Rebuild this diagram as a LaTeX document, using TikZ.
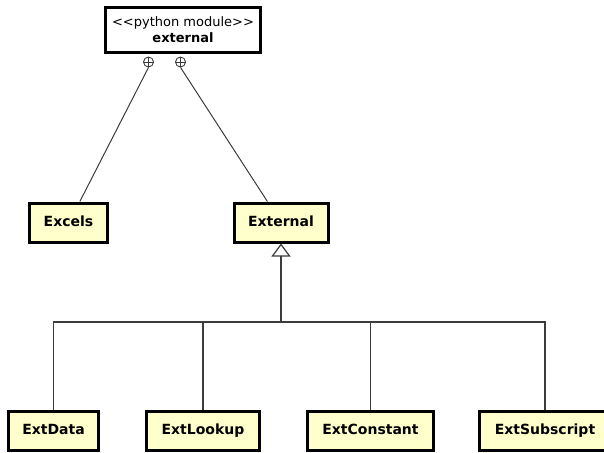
\documentclass[tikz,border=0pt]{standalone}
\usepackage{fontspec}
\setmainfont{DejaVu Sans}
\usetikzlibrary{arrows.meta,calc}
\definecolor{classfill}{RGB}{255,255,204}
\definecolor{wire}{RGB}{60,60,60}
\tikzset{
  classbox/.style={draw=black, line width=3pt, fill=classfill, minimum height=39pt,
    inner sep=0pt, text height=10.5pt, text depth=3pt,
    font=\fontsize{14}{17}\selectfont\bfseries},
  modulebox/.style={draw=black, line width=3pt, fill=white, minimum width=155pt,
    minimum height=45pt, inner sep=0pt, align=center, font=\fontsize{13}{16}\selectfont},
  nestmark/.style={circle, draw=wire, line width=0.9pt, fill=white, minimum size=10pt,
    inner sep=0pt,
    path picture={\draw[wire, line width=0.9pt]
      (path picture bounding box.north) -- (path picture bounding box.south)
      (path picture bounding box.west) -- (path picture bounding box.east);}},
  nestline/.style={draw=wire, line width=1pt},
  genline/.style={draw=wire, line width=1.5pt},
  genarrow/.style={genline, -{Triangle[open, length=13pt, width=19pt, line width=1.2pt]}}
}
\begin{document}
\begin{tikzpicture}[x=1pt, y=-1pt]
  \clip (0,0) rectangle (604,452);
  \fill[white] (0,0) rectangle (604,452);

  % package node and its nesting marks
  \node[modulebox] (module) at (183,30) {{<}{<}python module{>}{>}\\\textbf{external}};
  \node[nestmark] (n1) at (148.5,62) {};
  \node[nestmark] (n2) at (180.5,62) {};

  % first level classes
  \node[classbox, minimum width=78pt] (excels) at (68.5,222.5) {Excels};
  \node[classbox, minimum width=94pt] (external) at (281,222.5) {External};

  % subclasses
  \node[classbox, minimum width=90pt] (extdata) at (53.5,431) {ExtData};
  \node[classbox, minimum width=113pt] (extlookup) at (203,431) {ExtLookup};
  \node[classbox, minimum width=126pt] (extconstant) at (370.5,431) {ExtConstant};
  \node[classbox, minimum width=131pt] (extsubscript) at (545,431) {ExtSubscript};

  % nesting connectors
  \draw[nestline] (n1.south) -- ($(excels.north west)!0.64!(excels.north east)$);
  \draw[nestline] (n2.south) -- ($(external.north west)!0.36!(external.north east)$);

  % generalization tree
  \coordinate (bus) at (external.south |- 0,322);
  \draw[genarrow] (bus) -- (external.south);
  \draw[genline] (extdata.north) |- (bus);
  \draw[genline] (extsubscript.north) |- (bus);
  \draw[genline] (extlookup.north) -- (extlookup.north |- bus);
  \draw[genline] (extconstant.north) -- (extconstant.north |- bus);
\end{tikzpicture}
\end{document}
